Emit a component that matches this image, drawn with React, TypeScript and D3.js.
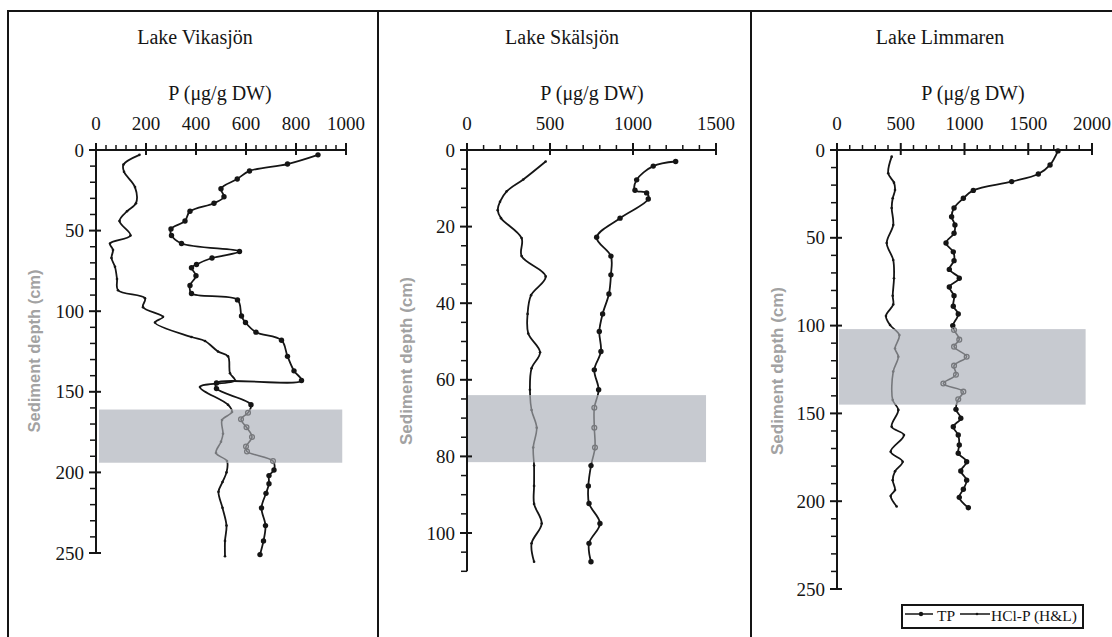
import React from "react";
import * as d3 from "d3";

// ---------- data ----------
const lakes = ["Lake Vikasjön", "Lake Skälsjön", "Lake Limmaren"];
const xAxisTitle = "P (μg/g DW)";
const yAxisTitle = "Sediment depth (cm)";
const seriesNames = ["TP", "HCl-P (H&L)"];

const xTickValues = [
  [0, 200, 400, 600, 800, 1000],
  [0, 500, 1000, 1500],
  [0, 500, 1000, 1500, 2000],
];
const yTickValues = [
  [0, 50, 100, 150, 200, 250],
  [0, 20, 40, 60, 80, 100],
  [0, 50, 100, 150, 200, 250],
];
const bandDepths = [
  [161, 194],
  [64, 81.5],
  [102, 145],
];
const bandValues = [
  [12, 985],
  [5, 1440],
  [15, 1950],
];

// Lake Vikasjön
const vikTPDepth = [3, 8.7, 13, 18, 24, 29, 33, 38, 44, 49, 53, 58, 63, 67, 71, 73, 78, 84, 89, 93, 103, 107, 113, 118, 128, 137, 143, 144.5, 148, 158, 163, 167, 172, 178, 184, 187, 193, 198.5, 202, 207, 213, 222, 233, 242.5, 251];
const vikTPValue = [888, 766, 614, 565, 500, 512, 472, 376, 356, 300, 302, 342, 574, 464, 402, 382, 400, 376, 382, 566, 582, 598, 640, 742, 766, 792, 822, 482, 482, 620, 608, 580, 602, 624, 600, 604, 708, 712, 692, 692, 680, 662, 678, 670, 656];
const vikHClDepth = [3, 9, 13.5, 23, 33, 38, 44, 53, 58, 62, 67, 72.5, 80, 87, 92, 97.5, 103.5, 107, 116, 118.5, 125, 128, 138.5, 143, 147, 158, 162.5, 167.5, 176, 181, 188, 193, 200, 206, 212, 222, 233, 242.5, 252];
const vikHClValue = [174, 110, 112, 156, 160, 124, 94, 138, 56, 68, 62, 76, 84, 88, 196, 188, 268, 236, 382, 436, 488, 528, 536, 556, 416, 528, 544, 504, 508, 500, 480, 524, 522, 506, 490, 506, 522, 516, 516];

// Lake Skälsjön
const skaTPDepth = [3, 4.2, 7.8, 10.5, 11.2, 12.8, 17.8, 22.8, 27.7, 32.6, 37.6, 42.8, 47.4, 52.6, 57.4, 62.6, 67.3, 72.5, 77.7, 82.4, 87.7, 92.3, 97.5, 102.7, 107.5];
const skaTPValue = [1257, 1122, 1022, 1012, 1082, 1092, 922, 781, 867, 867, 855, 817, 797, 807, 767, 793, 767, 767, 771, 747, 731, 735, 801, 735, 747];
const skaHClDepth = [3, 7.7, 10.8, 13.5, 15.7, 17.8, 23, 27.7, 33, 37.9, 42.8, 47.9, 52.8, 57, 62.6, 67.9, 72.5, 77.7, 82.4, 87.7, 92.4, 97.5, 102.7, 107.5];
const skaHClValue = [474, 339, 239, 199, 185, 205, 329, 329, 474, 386, 365, 369, 440, 389, 379, 389, 420, 399, 404, 404, 404, 450, 389, 404];

// Lake Limmaren
const limTPDepth = [0.5, 8.5, 13.7, 18, 23, 27.5, 33, 38, 42.7, 47.4, 53, 58, 63, 68, 73, 78, 83, 89, 93.4, 100, 102.5, 108, 112, 117.7, 122.8, 128, 133, 137.6, 142, 147.7, 152.8, 157.6, 162.3, 168, 172.7, 177.5, 182.8, 188, 193.2, 197.8, 203.7];
const limTPValue = [1733, 1671, 1579, 1370, 1069, 991, 918, 899, 925, 918, 855, 912, 918, 881, 959, 881, 918, 912, 951, 908, 918, 959, 918, 1017, 918, 933, 834, 991, 951, 933, 971, 912, 951, 959, 951, 1017, 971, 1017, 991, 959, 1030];
const limHClDepth = [3.8, 13.3, 18.6, 22.8, 27.5, 33, 42.7, 53, 62.6, 73, 83, 88, 94.5, 99.7, 105.4, 113, 117.7, 126.2, 142.4, 148, 157.6, 162.3, 171.8, 177.5, 183, 188, 193.6, 197, 203];
const limHClValue = [429, 402, 447, 455, 437, 429, 441, 390, 441, 447, 437, 441, 384, 416, 489, 455, 481, 441, 437, 481, 429, 525, 421, 515, 455, 437, 455, 421, 468];

const tpData = [
  [vikTPValue, vikTPDepth],
  [skaTPValue, skaTPDepth],
  [limTPValue, limTPDepth],
];
const hclData = [
  [vikHClValue, vikHClDepth],
  [skaHClValue, skaHClDepth],
  [limHClValue, limHClDepth],
];

// ---------- layout ----------
const W = 1112;
const H = 637;
const layouts = [
  { x0: 96, x1: 346, y0: 150, y1: 553, yEnd: 250, xMinor: 40, yMinor: 10, titleX: 195, xLabX: 220, yLabX: 34, yLabY: 351, yLabLen: 163 },
  { x0: 467, x1: 716, y0: 150, y1: 533, yEnd: 110, xMinor: 100, yMinor: 5, titleX: 562, xLabX: 592, yLabX: 406, yLabY: 361, yLabLen: 168 },
  { x0: 837, x1: 1092, y0: 150, y1: 589, yEnd: 250, xMinor: 100, yMinor: 10, titleX: 940, xLabX: 973, yLabX: 777, yLabY: 371, yLabLen: 168 },
];
const frameXs = [8, 378, 751];
const SERIF = "Liberation Serif";
const SANS = "Liberation Sans";
const BAND = "#c7cad0";
const GRAY = "#76787c";
const INK = "#151515";

function Panel({ i }: { i: number }) {
  const L = layouts[i];
  const xt = xTickValues[i];
  const yt = yTickValues[i];
  const xMax = xt[xt.length - 1];
  const x = d3.scaleLinear().domain([0, xMax]).range([L.x0, L.x1]);
  const y = d3.scaleLinear().domain([yt[0], yt[yt.length - 1]]).range([L.y0, L.y1]);
  const line = d3
    .line<[number, number]>()
    .x((p) => x(p[0]))
    .y((p) => y(p[1]))
    .curve(d3.curveCatmullRom.alpha(0.5));
  const bY0 = y(bandDepths[i][0]);
  const bY1 = y(bandDepths[i][1]);
  const xMinorTicks = d3.range(0, xMax + 1e-6, L.xMinor).filter((v) => !xt.includes(v));
  const yMinorTicks = d3.range(0, L.yEnd + 1e-6, L.yMinor).filter((v) => !yt.includes(v));
  const toPts = (vals: number[], deps: number[]) => vals.map((v, k) => [v, deps[k]] as [number, number]);
  const tp = toPts(tpData[i][0], tpData[i][1]);
  const hcl = toPts(hclData[i][0], hclData[i][1]);
  const inBand = (d: number) => y(d) >= bY0 && y(d) <= bY1;
  const fx = frameXs[i];
  const fx2 = i < 2 ? frameXs[i + 1] : W;

  return (
    <g>
      <defs>
        <clipPath id={`in${i}`}>
          <rect x={fx} y={bY0} width={fx2 - fx} height={bY1 - bY0} />
        </clipPath>
        <clipPath id={`out${i}`}>
          <rect x={fx} y={0} width={fx2 - fx} height={bY0} />
          <rect x={fx} y={bY1} width={fx2 - fx} height={H - bY1} />
        </clipPath>
      </defs>
      {/* band */}
      <rect
        x={x(bandValues[i][0])}
        y={bY0}
        width={x(bandValues[i][1]) - x(bandValues[i][0])}
        height={bY1 - bY0}
        fill={BAND}
      />
      {/* titles */}
      <text x={L.titleX} y={44} textAnchor="middle" fontSize={20} fontFamily={SERIF} fill={INK}>
        {lakes[i]}
      </text>
      <text x={L.xLabX} y={100} textAnchor="middle" fontSize={20} fontFamily={SERIF} fill={INK}>
        {xAxisTitle}
      </text>
      <text
        transform={`translate(${L.yLabX},${L.yLabY}) rotate(-90)`}
        textAnchor="middle"
        dy="0.35em"
        fontSize={17}
        fontWeight="bold"
        fontFamily={SANS}
        fill="#a2a2a2"
        textLength={L.yLabLen}
        lengthAdjust="spacingAndGlyphs"
      >
        {yAxisTitle}
      </text>
      {/* x axis */}
      <line x1={x(0)} x2={x(xMax)} y1={L.y0} y2={L.y0} stroke={INK} strokeWidth={2} />
      {xt.map((v) => (
        <g key={`xt${v}`}>
          <line x1={x(v)} x2={x(v)} y1={L.y0 - 7} y2={L.y0 + 5} stroke={INK} strokeWidth={2} />
          <text x={x(v)} y={130} textAnchor="middle" fontSize={19} fontFamily={SERIF} fill={INK}>
            {v}
          </text>
        </g>
      ))}
      {xMinorTicks.map((v) => (
        <line key={`xm${v}`} x1={x(v)} x2={x(v)} y1={L.y0 - 5} y2={L.y0} stroke={INK} strokeWidth={1.5} />
      ))}
      {/* y axis */}
      <line x1={L.x0} x2={L.x0} y1={L.y0} y2={y(L.yEnd)} stroke={INK} strokeWidth={2} />
      {yt.map((v) => (
        <g key={`yt${v}`}>
          <line x1={L.x0 - 7} x2={L.x0 + 5} y1={y(v)} y2={y(v)} stroke={INK} strokeWidth={2} />
          <text x={L.x0 - 12} y={y(v)} dy="0.35em" textAnchor="end" fontSize={19} fontFamily={SERIF} fill={INK}>
            {v}
          </text>
        </g>
      ))}
      {yMinorTicks.map((v) => (
        <line key={`ym${v}`} x1={L.x0 - 6} x2={L.x0} y1={y(v)} y2={y(v)} stroke={INK} strokeWidth={1.5} />
      ))}
      {/* series lines */}
      {[hcl, tp].map((pts, s) => (
        <g key={`s${s}`}>
          <path d={line(pts) || ""} fill="none" stroke={INK} strokeWidth={1.8} clipPath={`url(#out${i})`} />
          <path d={line(pts) || ""} fill="none" stroke={GRAY} strokeWidth={1.6} clipPath={`url(#in${i})`} />
        </g>
      ))}
      {/* markers */}
      {hcl.map((p, k) => (
        <circle key={`hm${k}`} cx={x(p[0])} cy={y(p[1])} r={1.3} fill={inBand(p[1]) ? GRAY : INK} />
      ))}
      {tp.map((p, k) =>
        inBand(p[1]) ? (
          <circle key={`tm${k}`} cx={x(p[0])} cy={y(p[1])} r={2.4} fill="none" stroke={GRAY} strokeWidth={1.3} />
        ) : (
          <circle key={`tm${k}`} cx={x(p[0])} cy={y(p[1])} r={2.7} fill={INK} />
        )
      )}
    </g>
  );
}

function Legend() {
  const lx = 902;
  const ly = 605;
  const ny = ly + 9;
  return (
    <g fontFamily={SERIF} fontSize={15.5} fill={INK}>
      <rect x={lx} y={ly} width={181} height={23} fill="#fff" stroke={INK} strokeWidth={2} />
      <line x1={lx + 3} x2={lx + 31} y1={ny} y2={ny} stroke={INK} strokeWidth={1.5} />
      <circle cx={lx + 19} cy={ny} r={2.2} fill={INK} />
      <text x={lx + 35} y={ly + 16}>{seriesNames[0]}</text>
      <line x1={lx + 58} x2={lx + 88} y1={ny} y2={ny} stroke={INK} strokeWidth={1.5} />
      <circle cx={lx + 75} cy={ny} r={1.3} fill={INK} />
      <text x={lx + 89} y={ly + 16}>{seriesNames[1]}</text>
    </g>
  );
}

export default function App() {
  return (
    <svg
      width={W}
      height={H}
      viewBox={`0 0 ${W} ${H}`}
      style={{ position: "absolute", left: 0, top: 0, background: "#fff" }}
    >
      <rect x={0} y={0} width={W} height={H} fill="#fff" />
      {[0, 1, 2].map((i) => (
        <Panel key={i} i={i} />
      ))}
      {/* frame */}
      <line x1={frameXs[0]} x2={W} y1={11} y2={11} stroke={INK} strokeWidth={2} />
      {frameXs.map((fx) => (
        <line key={fx} x1={fx} x2={fx} y1={10} y2={H} stroke={INK} strokeWidth={2} />
      ))}
      <Legend />
    </svg>
  );
}
